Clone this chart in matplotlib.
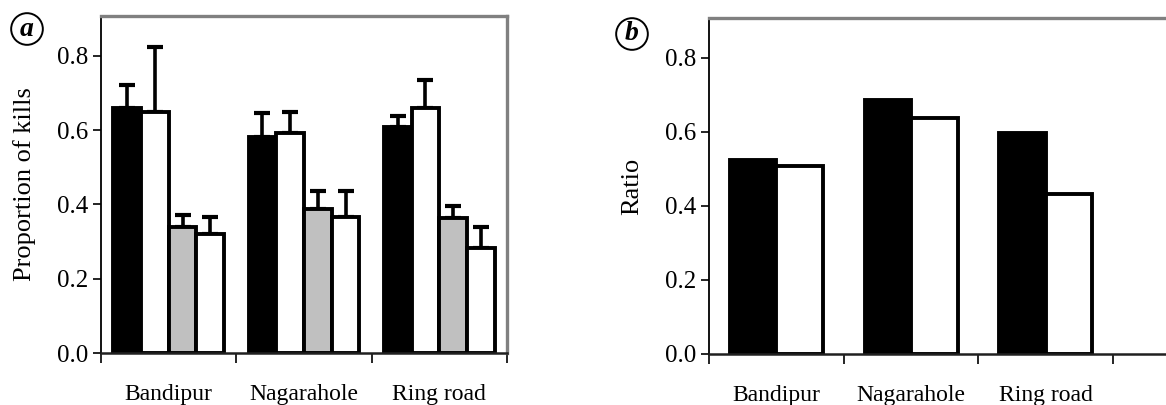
import numpy as np
import matplotlib.pyplot as plt

plt.rcParams['font.family'] = ['Liberation Serif', 'DejaVu Serif']

sites = ["Bandipur", "Nagarahole", "Ring road"]

# panel a: proportion of kills (four bars per site) and upper error
prop_black = [0.66, 0.582, 0.609]
prop_white1 = [0.648, 0.591, 0.659]
prop_gray = [0.34, 0.387, 0.363]
prop_white2 = [0.319, 0.367, 0.283]
err_black = [0.061, 0.063, 0.029]
err_white1 = [0.176, 0.057, 0.076]
err_gray = [0.031, 0.050, 0.033]
err_white2 = [0.046, 0.070, 0.057]

# panel b: ratio
ratio_black = [0.523, 0.686, 0.596]
ratio_white = [0.507, 0.638, 0.433]

fig = plt.figure(figsize=(11.66, 4.05), dpi=100)
W, H = 1166, 405


def style_axes(ax, ylabel, lpad):
    ax.set_ylim(0, 0.907)
    ax.set_yticks([0, 0.2, 0.4, 0.6, 0.8])
    ax.set_yticklabels(["0.0", "0.2", "0.4", "0.6", "0.8"])
    ax.set_ylabel(ylabel, fontsize=19, labelpad=lpad)
    for s in ["top", "right"]:
        ax.spines[s].set_color("#808080")
        ax.spines[s].set_linewidth(2.4)
    ax.spines["left"].set_linewidth(1.3)
    ax.spines["bottom"].set_linewidth(1.8)
    ax.spines["bottom"].set_color("#202020")
    ax.tick_params(axis="y", direction="out", length=6, width=1.2, labelsize=18, pad=3)
    ax.tick_params(axis="x", which="major", direction="out", length=7, width=1.2,
                   labelbottom=False)
    ax.tick_params(axis="x", which="minor", length=0, labelsize=17, pad=22)
    ax.set_xticks([0, 1, 2, 3])
    ax.set_xticks([0.5, 1.5, 2.5], minor=True)
    ax.set_xticklabels(sites, minor=True)


# ---- panel a
ax1 = fig.add_axes([101 / W, 1 - 353 / H, (507 - 101) / W, (353 - 16) / H])
ax1.set_xlim(0, 3)
x = np.arange(3) + 0.5
bw = 0.205
offs = [-1.5 * bw, -0.5 * bw, 0.5 * bw, 1.5 * bw]
series = [(prop_black, err_black, "black"), (prop_white1, err_white1, "white"),
          (prop_gray, err_gray, "#c0c0c0"), (prop_white2, err_white2, "white")]
for (vals, errs, col), o in zip(series, offs):
    ax1.bar(x + o, vals, bw, color=col, edgecolor="black", linewidth=2.8, zorder=2)
    ax1.errorbar(x + o, vals, yerr=[np.zeros(3), errs], fmt="none", ecolor="black",
                 elinewidth=2.6, capsize=6, capthick=3, zorder=1)
style_axes(ax1, "Proportion of kills", 15)

# ---- panel b
right_px = 1190
ax2 = fig.add_axes([709 / W, 1 - 354 / H, (right_px - 709) / W, (354 - 18) / H])
ax2.set_xlim(0, (right_px - 709) / 134.7)
bw2 = 0.345
ax2.bar(x - bw2 / 2, ratio_black, bw2, color="black", edgecolor="black",
        linewidth=2.8, zorder=2)
ax2.bar(x + bw2 / 2, ratio_white, bw2, color="white", edgecolor="black",
        linewidth=2.8, zorder=2)
style_axes(ax2, "Ratio", 16)

# panel letters
circ = dict(boxstyle="circle,pad=0.12", fc="white", ec="black", lw=1.4)
fig.text(27 / W, 1 - 29 / H, "a", fontsize=20, fontweight="bold", fontstyle="italic",
         ha="center", va="center", bbox=circ)
fig.text(632 / W, 1 - 34 / H, "b", fontsize=20, fontweight="bold", fontstyle="italic",
         ha="center", va="center", bbox=circ)

fig.savefig("out.png", dpi=100)
